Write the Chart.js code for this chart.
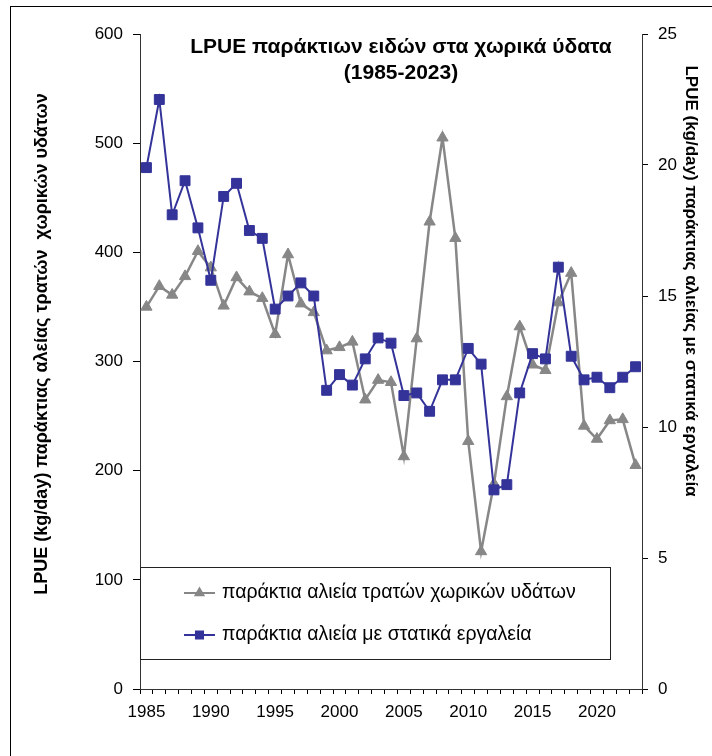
<!DOCTYPE html>
<html lang="el">
<head>
    <meta charset="UTF-8">
    <title>LPUE παράκτιων ειδών</title>
    <script src="https://cdn.jsdelivr.net/npm/chart.js"></script>
    <style>
        body {
            margin: 0;
            padding: 0;
            background-color: #fff;
            overflow: hidden;
        }

        #wrap {
            position: relative;
            width: 712px;
            height: 756px;
        }

        /* outer chart frame, cut off on the right and bottom like the original */
        #frame {
            position: absolute;
            left: 10px;
            top: 6px;
            width: 800px;
            height: 800px;
            border: 1px solid #000;
            pointer-events: none;
        }
    </style>
</head>

<body>
    <div id="wrap">
        <canvas id="lpueChart" width="712" height="756"></canvas>
        <div id="frame"></div>
    </div>

    <script>
        // Data
        const years = [1985, 1986, 1987, 1988, 1989, 1990, 1991, 1992, 1993, 1994,
            1995, 1996, 1997, 1998, 1999, 2000, 2001, 2002, 2003, 2004,
            2005, 2006, 2007, 2008, 2009, 2010, 2011, 2012, 2013, 2014,
            2015, 2016, 2017, 2018, 2019, 2020, 2021, 2022, 2023];

        // left axis: coastal trawl fishery, territorial waters (kg/day)
        const trawlLpue = [350, 369, 361, 378, 401, 386, 351, 377, 364, 358,
            325, 398, 353, 345, 310, 313, 318, 265, 283, 281,
            213, 321, 428, 505, 413, 227, 126, 188, 268, 332,
            297, 292, 354, 381, 241, 229, 246, 247, 205];

        // right axis: coastal fishery with static gear (kg/day)
        const staticLpue = [19.9, 22.5, 18.1, 19.4, 17.6, 15.6, 18.8, 19.3, 17.5, 17.2,
            14.5, 15.0, 15.5, 15.0, 11.4, 12.0, 11.6, 12.6, 13.4, 13.2,
            11.2, 11.3, 10.6, 11.8, 11.8, 13.0, 12.4, 7.6, 7.8, 11.3,
            12.8, 12.6, 16.1, 12.7, 11.8, 11.9, 11.5, 11.9, 12.3];

        const leftTicks = [0, 100, 200, 300, 400, 500, 600];
        const rightTicks = [0, 5, 10, 15, 20, 25];

        const titleLines = ['LPUE παράκτιων ειδών στα χωρικά ύδατα', '(1985-2023)'];
        const leftTitle = 'LPUE (kg/day) παράκτιας αλείας τρατών  χωρικών υδάτων';
        const rightTitle = 'LPUE (kg/day) παράκτιας αλιείας με στατικά εργαλεία';
        const seriesNames = ['παράκτια αλιεία τρατών χωρικών υδάτων', 'παράκτια αλιεία με στατικά εργαλεία'];

        const GRAY = '#878787';
        const BLUE = '#333399';
        const FONT = '"Liberation Sans", Arial, sans-serif';

        Chart.defaults.font.family = FONT;
        Chart.defaults.color = '#000';

        // title, axis titles and boxed legend drawn over the plot
        const overlay = {
            id: 'overlay',
            afterDraw(chart) {
                const ctx = chart.ctx;
                ctx.save();
                ctx.fillStyle = '#000';
                ctx.textAlign = 'center';
                ctx.textBaseline = 'middle';

                ctx.font = 'bold 21px ' + FONT;
                ctx.fillText(titleLines[0], 401, 47);
                ctx.fillText(titleLines[1], 401, 73);

                ctx.save();
                ctx.translate(42, 344);
                ctx.rotate(-Math.PI / 2);
                ctx.font = 'bold 18px ' + FONT;
                ctx.fillText(leftTitle, 0, 0);
                ctx.restore();

                ctx.save();
                ctx.translate(691, 281);
                ctx.rotate(Math.PI / 2);
                ctx.font = 'bold 17px ' + FONT;
                ctx.fillText(rightTitle, 0, 0);
                ctx.restore();

                // legend box
                const lx = 140, ly = 567, lw = 470, lh = 92;
                ctx.fillStyle = '#fff';
                ctx.fillRect(lx, ly, lw, lh);
                ctx.strokeStyle = '#222';
                ctx.lineWidth = 1;
                ctx.strokeRect(lx + 0.5, ly + 0.5, lw, lh);

                const rows = [593, 635];
                chart.data.datasets.forEach((ds, i) => {
                    const y = rows[i];
                    ctx.strokeStyle = ds.borderColor;
                    ctx.lineWidth = 2;
                    ctx.beginPath();
                    ctx.moveTo(184, y);
                    ctx.lineTo(215, y);
                    ctx.stroke();
                    ctx.fillStyle = ds.backgroundColor;
                    Chart.helpers.drawPoint(ctx, {
                        pointStyle: ds.pointStyle,
                        radius: ds.pointStyle === 'rect' ? 5 : 4.5,
                        rotation: 0,
                        borderWidth: 1
                    }, 199.5, y);
                    ctx.fillStyle = '#000';
                    ctx.textAlign = 'left';
                    ctx.font = '19.5px ' + FONT;
                    ctx.fillText(ds.label, 222, y);
                });
                ctx.restore();
            }
        };

        const ctx = document.getElementById('lpueChart').getContext('2d');
        const lpueChart = new Chart(ctx, {
            type: 'line',
            data: {
                labels: years,
                datasets: [{
                    label: seriesNames[0],
                    data: trawlLpue,
                    yAxisID: 'y',
                    borderColor: GRAY,
                    backgroundColor: GRAY,
                    borderWidth: 2.5,
                    pointStyle: 'triangle',
                    pointRadius: 6.5,
                    pointBorderWidth: 1,
                    tension: 0,
                    order: 2
                },
                {
                    label: seriesNames[1],
                    data: staticLpue,
                    yAxisID: 'y2',
                    borderColor: BLUE,
                    backgroundColor: BLUE,
                    borderWidth: 2,
                    pointStyle: 'rect',
                    pointRadius: 7,
                    pointBorderWidth: 1,
                    tension: 0,
                    order: 1
                }]
            },
            options: {
                responsive: false,
                animation: false,
                layout: {
                    padding: { top: 34, left: 0, right: 0, bottom: 0 }
                },
                plugins: {
                    legend: { display: false },
                    tooltip: { enabled: false }
                },
                scales: {
                    x: {
                        offset: true,
                        grid: {
                            offset: true,
                            drawOnChartArea: false,
                            tickLength: 5,
                            color: '#000'
                        },
                        border: { color: '#333' },
                        ticks: {
                            autoSkip: false,
                            maxRotation: 0,
                            padding: 8,
                            font: { size: 17 },
                            callback: function (value, index) {
                                return years[index] % 5 === 0 ? String(years[index]) : '';
                            }
                        },
                        afterFit: function (scale) { scale.height = 67; }
                    },
                    y: {
                        position: 'left',
                        min: leftTicks[0],
                        max: leftTicks[leftTicks.length - 1],
                        afterBuildTicks: function (scale) {
                            scale.ticks = leftTicks.map(v => ({ value: v }));
                        },
                        grid: {
                            drawOnChartArea: false,
                            tickLength: 7,
                            color: '#000'
                        },
                        border: { color: '#333' },
                        ticks: { padding: 10, font: { size: 17 } },
                        afterFit: function (scale) { scale.width = 140; }
                    },
                    y2: {
                        position: 'right',
                        min: rightTicks[0],
                        max: rightTicks[rightTicks.length - 1],
                        afterBuildTicks: function (scale) {
                            scale.ticks = rightTicks.map(v => ({ value: v }));
                        },
                        grid: {
                            drawOnChartArea: false,
                            tickLength: 6,
                            color: '#000'
                        },
                        border: { color: '#333' },
                        ticks: { padding: 10, font: { size: 17 } },
                        afterFit: function (scale) { scale.width = 70; }
                    }
                }
            },
            plugins: [overlay]
        });
    </script>
</body>

</html>
